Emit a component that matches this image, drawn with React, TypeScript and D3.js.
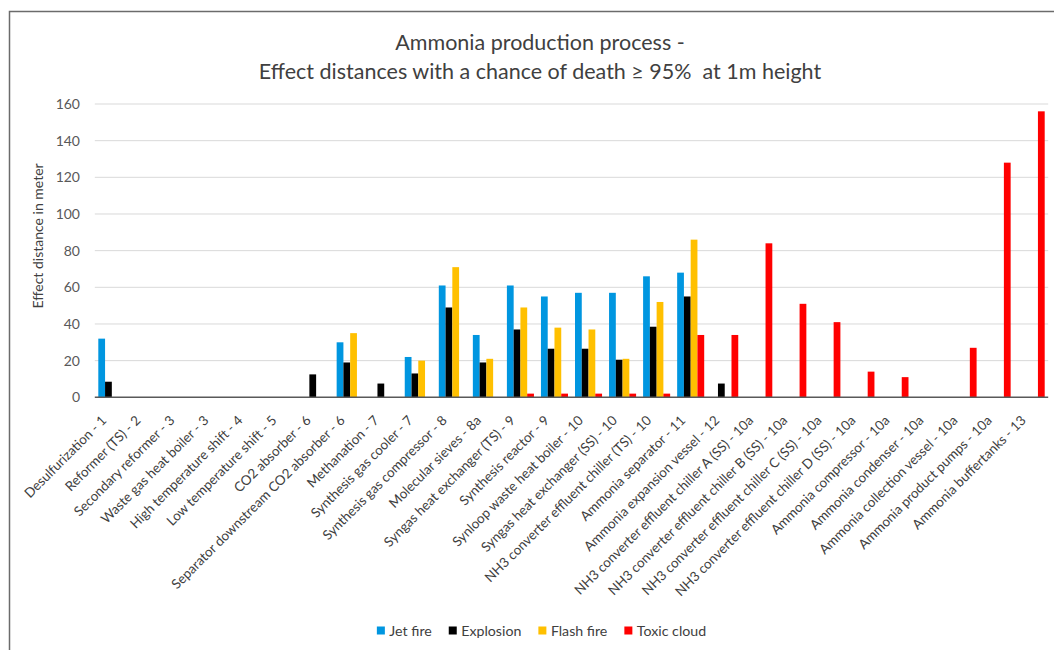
import { useEffect, useRef } from "react"
import * as d3 from "d3"

const categories = [
  "Desulfurization - 1",
  "Reformer (TS) - 2",
  "Secondary reformer - 3",
  "Waste gas heat boiler - 3",
  "High temperature shift - 4",
  "Low temperature shift - 5",
  "CO2 absorber - 6",
  "Separator downstream CO2 absorber - 6",
  "Methanation - 7",
  "Synthesis gas cooler - 7",
  "Synthesis gas compressor - 8",
  "Molecular sieves - 8a",
  "Syngas heat exchanger (TS) - 9",
  "Synthesis reactor - 9",
  "Synloop waste heat boiler - 10",
  "Syngas heat exchanger (SS) - 10",
  "NH3 converter effluent chiller (TS) - 10",
  "Ammonia separator - 11",
  "Ammonia expansion vessel - 12",
  "NH3 converter effluent chiller A (SS) - 10a",
  "NH3 converter effluent chiller B (SS) - 10a",
  "NH3 converter effluent chiller C (SS) - 10a",
  "NH3 converter effluent chiller D (SS) - 10a",
  "Ammonia compressor - 10a",
  "Ammonia condenser - 10a",
  "Ammonia collection vessel - 10a",
  "Ammonia product pumps - 10a",
  "Ammonia buffertanks - 13",
]

const jetFire = [32, 0, 0, 0, 0, 0, 0, 30, 0, 22, 61, 34, 61, 55, 57, 57, 66, 68, 0, 0, 0, 0, 0, 0, 0, 0, 0, 0]
const explosion = [8.5, 0, 0, 0, 0, 0, 12.5, 19, 7.5, 13, 49, 19, 37, 26.5, 26.5, 20.5, 38.5, 55, 7.5, 0, 0, 0, 0, 0, 0, 0, 0, 0]
const flashFire = [0, 0, 0, 0, 0, 0, 0, 35, 0, 20, 71, 21, 49, 38, 37, 21, 52, 86, 0, 0, 0, 0, 0, 0, 0, 0, 0, 0]
const toxicCloud = [0, 0, 0, 0, 0, 0, 0, 0, 0, 0, 0, 0, 2, 2, 2, 2, 2, 34, 34, 84, 51, 41, 14, 11, 0, 27, 128, 156]

const seriesNames = ["Jet fire", "Explosion", "Flash fire", "Toxic cloud"]
const seriesColors = ["#0096E0", "#000000", "#FFC000", "#FF0000"]
const yTicks = [0, 20, 40, 60, 80, 100, 120, 140, 160]

const FONT = "Lato, 'Open Sans', sans-serif"

export default function App() {
  const svgRef = useRef<SVGSVGElement>(null)

  useEffect(() => {
    if (!svgRef.current) return
    const svg = d3.select(svgRef.current)
    svg.selectAll("*").remove()

    const left = 94.8
    const right = 1048.2
    const top = 104
    const bottom = 397.3

    // chart frame
    svg.append("rect")
      .attr("x", 9.5).attr("y", 11.5).attr("width", 1100).attr("height", 700)
      .attr("fill", "white").attr("stroke", "#6b6b6b").attr("stroke-width", 1.5)

    const seriesData = [jetFire, explosion, flashFire, toxicCloud]

    const x0 = d3.scaleBand<string>().domain(categories).range([left, right]).padding(0)
    const bw = x0.bandwidth()
    const x1 = d3.scaleBand<string>().domain(seriesNames).range([3.5, bw - 3.5]).padding(0)
    const y = d3.scaleLinear().domain([0, 160]).range([bottom, top])

    // gridlines
    svg.append("g").selectAll("line")
      .data(yTicks.filter((t) => t > 0))
      .enter()
      .append("line")
      .attr("x1", left).attr("x2", right)
      .attr("y1", (d) => y(d)).attr("y2", (d) => y(d))
      .attr("stroke", "#d9d9d9").attr("stroke-width", 1)

    // y tick labels
    svg.append("g").selectAll("text")
      .data(yTicks)
      .enter()
      .append("text")
      .attr("x", 80).attr("y", (d) => y(d)).attr("dy", "0.35em")
      .attr("text-anchor", "end").attr("fill", "#595959")
      .style("font-family", FONT).style("font-size", "14px")
      .text((d) => d)

    // bars
    seriesData.forEach((vals, si) => {
      svg.append("g").selectAll("rect")
        .data(vals.map((v, i) => ({ cat: categories[i], v })).filter((d) => d.v > 0))
        .enter()
        .append("rect")
        .attr("x", (d) => (x0(d.cat) as number) + (x1(seriesNames[si]) as number))
        .attr("y", (d) => y(d.v))
        .attr("width", x1.bandwidth())
        .attr("height", (d) => bottom - y(d.v))
        .attr("fill", seriesColors[si])
    })

    // baseline
    svg.append("line")
      .attr("x1", left).attr("x2", right).attr("y1", bottom).attr("y2", bottom)
      .attr("stroke", "#595959").attr("stroke-width", 1.5)

    // x labels
    svg.append("g").selectAll("text")
      .data(categories)
      .enter()
      .append("text")
      .attr("transform", (d) => `translate(${(x0(d) as number) + bw / 2 - 4.5},${bottom + 24}) rotate(-45)`)
      .attr("text-anchor", "end").attr("fill", "#404040")
      .style("font-family", FONT).style("font-size", "13.4px")
      .text((d) => d)

    // y axis title
    svg.append("text")
      .attr("transform", `translate(43,236) rotate(-90)`)
      .attr("text-anchor", "middle").attr("fill", "#404040")
      .style("font-family", FONT).style("font-size", "14px")
      .text("Effect distance in meter")

    // title
    const title = svg.append("text")
      .attr("text-anchor", "middle").attr("fill", "#404040")
      .style("font-family", FONT).style("font-size", "21.5px").style("white-space", "pre")
    title.append("tspan").attr("x", 540).attr("y", 50).text("Ammonia production process -")
    title.append("tspan").attr("x", 540).attr("y", 79).text("Effect distances with a chance of death \u2265 95%  at 1m height")

    // legend
    const legend = svg.append("g")
    let cx = 0
    seriesNames.forEach((name, i) => {
      const g = legend.append("g").attr("transform", `translate(${cx},0)`)
      g.append("rect").attr("x", 0).attr("y", -4.5).attr("width", 8).attr("height", 8).attr("fill", seriesColors[i])
      const t = g.append("text").attr("x", 12.5).attr("y", 0).attr("dy", "0.35em")
        .attr("fill", "#404040").style("font-family", FONT).style("font-size", "14.2px").text(name)
      const w = (t.node() as SVGTextElement).getComputedTextLength()
      cx += 12.5 + w + 17
    })
    const totalW = cx - 17
    legend.attr("transform", `translate(${541.5 - totalW / 2},631)`)
  }, [])

  return (
    <svg ref={svgRef} width={1054} height={650} style={{ position: "absolute", left: 0, top: 0, background: "white" }} />
  )
}
